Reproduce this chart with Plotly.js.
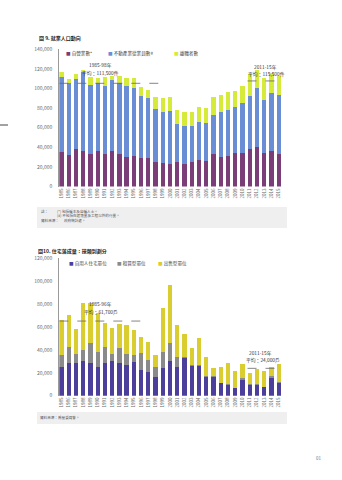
<!DOCTYPE html>
<html><head><meta charset="utf-8">
<script src="https://cdn.plot.ly/plotly-3.0.1.min.js"></script>
<style>html,body{margin:0;padding:0;background:#fff;}#c{width:342px;height:480px;}</style>
</head><body><div id="c"></div>
<script>
const years = ['1985','1986','1987','1988','1989','1990','1991','1992','1993','1994','1995','1996','1997','1998','1999','2000','2001','2002','2003','2004','2005','2006','2007','2008','2009','2010','2011','2012','2013','2014','2015'];

// Chart 1 (圖 9)
const c1Names = ['自營業數*','不動產業從業員數#','離職者數'];
const c1Self = [35000,32600,38400,36000,33300,36000,33300,36000,33300,30600,31600,29300,29300,24800,23800,23100,24800,23100,24800,27200,26500,33300,30600,31600,34300,34300,38400,40000,34300,36700,33300];
const c1Emp = [77200,73100,71400,80600,70400,69400,69700,72800,72100,72400,69100,63500,60700,54400,52000,53900,39100,39100,37100,38400,38400,39800,45200,46900,46600,50700,54400,60700,54100,58500,60200];
const c1Leave = [4400,4100,5100,2700,7800,5100,8500,3700,7100,7500,9800,8500,8600,11800,14200,14000,14600,13600,13900,15300,15000,17900,18000,17700,16300,18000,22100,18300,22100,20800,19700];
const c1AvgA = {from:'1985', to:'1998', value:105300, label1:'1985-98年', label2:'平均：111,500件'};
const c1AvgB = {from:'2011', to:'2015', value:107700, label1:'2011-15年', label2:'平均：115,500件'};

// Chart 2 (圖10)
const c2Names = ['自用人住宅單位','租賃型單位','出售型單位'];
const c2Own = [24800,28300,28300,30600,28300,24800,28300,30600,28300,26800,29700,22400,21000,16600,24000,30000,25300,32600,25900,25900,16600,16600,10800,9300,6500,13700,9300,9300,7300,15200,11400];
const c2Rent = [10700,14500,8000,9300,17400,13600,14500,5800,13100,10000,6000,14600,10200,8700,14000,16000,8600,1500,1000,1000,800,500,500,500,300,2000,500,500,500,2000,1000];
const c2Sale = [30600,27700,21700,40800,35000,33500,20900,22400,20900,25200,21700,14500,15800,10200,38600,50600,27800,19800,14500,23700,16600,6800,13500,19000,15000,12000,10300,13200,14000,7600,15300];
const c2AvgA = {from:'1985', to:'1996', value:65200, label1:'1985-96年', label2:'平均：61,700戶'};
const c2AvgB = {from:'2011', to:'2015', value:23900, label1:'2011-15年', label2:'平均：24,000戶'};

const col1 = ['#7a3d78','#6a8ed6','#d6ea3a'];
const col2 = ['#4b3f9b','#8a8a8a','#d9cd2f'];

const W = 342, H = 480;
const px = x => x / W;
const py = y => 1 - y / H;
const FONT = '"Noto Sans CJK TC", "Noto Sans", sans-serif';

function bar(y, name, color, xa, ya) {
  return {type:'bar', x: years, y: y, name: name, marker:{color: color, line:{width:0}},
          xaxis: xa, yaxis: ya, showlegend:false, hoverinfo:'skip'};
}
const traces = [
  bar(c1Self, c1Names[0], col1[0], 'x', 'y'),
  bar(c1Emp, c1Names[1], col1[1], 'x', 'y'),
  bar(c1Leave, c1Names[2], col1[2], 'x', 'y'),
  bar(c2Own, c2Names[0], col2[0], 'x2', 'y2'),
  bar(c2Rent, c2Names[1], col2[1], 'x2', 'y2'),
  bar(c2Sale, c2Names[2], col2[2], 'x2', 'y2')
];

const xDom = [px(59.3), px(284.8)];
const xRange = [-0.3, 30.85];
function xaxis() {
  return {domain: xDom, range: xRange, type:'category', tickangle:-90, showline:false, showgrid:false,
          zeroline:false, ticks:'', tickfont:{size:4.5, color:'#666', family:FONT}, fixedrange:true};
}
function yaxis(dom, max, anchor) {
  return {domain: dom, range:[0,max], dtick:20000, tickformat:',d', showline:true, linecolor:'#9a9a9a',
          linewidth:1, showgrid:false, zeroline:false, ticks:'', ticklabelstandoff:5,
          tickfont:{size:5, color:'#666', family:FONT}, anchor: anchor, fixedrange:true};
}

function avgShape(a, xr, yr) {
  const i0 = years.indexOf(a.from), i1 = years.indexOf(a.to);
  return {type:'line', xref:xr, yref:yr, x0: i0 - 0.3, x1: i1 + 0.5, y0: a.value, y1: a.value,
          line:{color:'#666', width:0.8, dash:'dash'}, layer:'above'};
}

function txt(x, y, t, opts) {
  return Object.assign({xref:'paper', yref:'paper', x: px(x), y: py(y), text: t, showarrow:false,
    xanchor:'center', yanchor:'middle', font:{size:4.8, color:'#333', family:FONT}}, opts || {});
}
function legItem(x, y, color, name) {
  return txt(x, y, '<span style="color:' + color + '">■</span> ' + name, {xanchor:'left', font:{size:4.6, color:'#444', family:FONT}});
}
const noteFont = {size:3.6, color:'#555', family:FONT};

const annotations = [
  txt(37, 38, '<b>圖 9. 就業人口動向</b>', {xanchor:'left', font:{size:5, color:'#222', family:FONT}}),
  legItem(64, 53.5, col1[0], c1Names[0]),
  legItem(106, 53.5, col1[1], c1Names[1]),
  legItem(172, 53.5, col1[2], c1Names[2]),
  txt(100, 65, c1AvgA.label1),
  txt(100, 73.5, c1AvgA.label2),
  txt(265, 66.5, c1AvgB.label1),
  txt(266, 74.3, c1AvgB.label2),
  txt(39, 211, '註：', {xanchor:'left', font:noteFont}),
  txt(55, 211, '(*) 包括僱主及自僱人士。', {xanchor:'left', font:noteFont}),
  txt(55, 215.6, '(#) 不包括在建築業及工程以外的行業。', {xanchor:'left', font:noteFont}),
  txt(39, 220.4, '資料來源：', {xanchor:'left', font:noteFont}),
  txt(62, 220.4, '政府統計處。', {xanchor:'left', font:noteFont}),

  txt(36, 250.7, '<b>圖10. 住宅落成量：按類別劃分</b>', {xanchor:'left', font:{size:5, color:'#222', family:FONT}}),
  legItem(67, 263.7, col2[0], c2Names[0]),
  legItem(115, 263.7, col2[1], c2Names[1]),
  legItem(155.5, 263.7, col2[2], c2Names[2]),
  txt(100, 304.3, c2AvgA.label1),
  txt(101, 312, c2AvgA.label2),
  txt(260, 352.7, c2AvgB.label1),
  txt(262.5, 360, c2AvgB.label2),
  txt(38, 417.7, '資料來源：房屋委員會。', {xanchor:'left', font:noteFont}),

  txt(318, 458, '01', {font:{size:4.5, color:'#777', family:FONT}})
];

const shapes = [
  {type:'rect', xref:'paper', yref:'paper', x0:px(37), x1:px(287), y0:py(228), y1:py(207), fillcolor:'#efefef', line:{width:0}, layer:'below'},
  {type:'rect', xref:'paper', yref:'paper', x0:px(37), x1:px(287), y0:py(424), y1:py(412), fillcolor:'#efefef', line:{width:0}, layer:'below'},
  {type:'line', xref:'paper', yref:'paper', x0:px(0), x1:px(8), y0:py(125), y1:py(125), line:{color:'#444', width:1}},
  avgShape(c1AvgA, 'x', 'y'),
  avgShape(c1AvgB, 'x', 'y'),
  avgShape(c2AvgA, 'x2', 'y2'),
  avgShape(c2AvgB, 'x2', 'y2')
];

const layout = {
  width: W, height: H, margin:{l:0, r:0, t:0, b:0}, paper_bgcolor:'#fff', plot_bgcolor:'rgba(0,0,0,0)',
  barmode:'stack', bargap:0.41, showlegend:false,
  font:{family:FONT},
  xaxis: Object.assign(xaxis(), {anchor:'y'}),
  yaxis: yaxis([py(186.5), py(49.3)], 140000, 'x'),
  xaxis2: Object.assign(xaxis(), {anchor:'y2'}),
  yaxis2: yaxis([py(395.7), py(258.3)], 120000, 'x2'),
  annotations: annotations,
  shapes: shapes
};

Plotly.newPlot('c', traces, layout, {displayModeBar:false, staticPlot:true});
</script>
</body></html>
